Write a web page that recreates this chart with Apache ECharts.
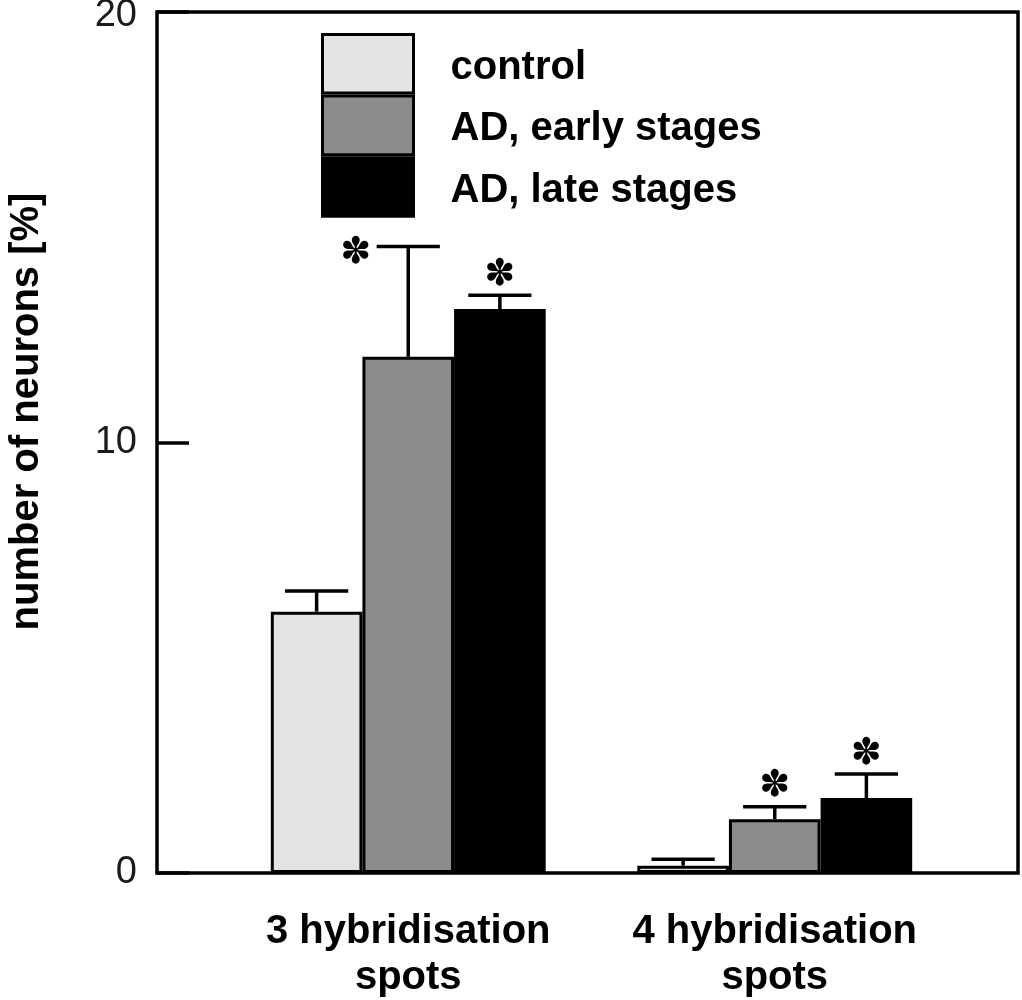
<!DOCTYPE html>
<html>
<head>
<meta charset="utf-8">
<script src="https://cdn.jsdelivr.net/npm/echarts@6/dist/echarts.min.js"></script>
<style>html,body{margin:0;padding:0;background:#fff;}#c{width:1022px;height:1000px;}</style>
</head>
<body>
<div id="c"></div>
<script>
// ---- data ----
var categories = ['3 hybridisation\nspots', '4 hybridisation\nspots'];
var seriesNames = ['control', 'AD, early stages', 'AD, late stages'];
var controlMean = [6.07, 0.17];
var controlUpper = [6.55, 0.32];
var earlyMean = [11.99, 1.25];
var earlyUpper = [14.55, 1.54];
var lateMean = [13.10, 1.74];
var lateUpper = [13.42, 2.30];
var controlSig = ['', ''];
var earlySig = ['left', 'top'];
var lateSig = ['top', 'top'];
var yTicks = [0, 10, 20];

var colors = ['#e3e3e3', '#8c8c8c', '#000000'];
var means = [controlMean, earlyMean, lateMean];
var uppers = [controlUpper, earlyUpper, lateUpper];
var sigs = [controlSig, earlySig, lateSig];

var FONT = 'Liberation Sans, Arial, Helvetica, sans-serif';
var GAP = 0.25;
var TOP = 12;

var chart = echarts.init(document.getElementById('c'), null, {renderer: 'canvas'});

var series = [];
seriesNames.forEach(function (name, i) {
  series.push({
    name: name,
    type: 'bar',
    xAxisIndex: 0, yAxisIndex: 0,
    data: means[i],
    barGap: '0%',
    barCategoryGap: (GAP * 100) + '%',
    itemStyle: {color: colors[i], borderColor: '#000', borderWidth: 3},
    emphasis: {disabled: true},
    z: 2
  });
});
seriesNames.forEach(function (name, i) {
  var d = means[i].map(function (m, k) { return [k, m, uppers[i][k], sigs[i][k]]; });
  series.push({
    name: name + ' err',
    type: 'custom',
    xAxisIndex: 0, yAxisIndex: 0,
    data: d,
    z: 5,
    silent: true,
    renderItem: function (params, api) {
      var k = api.value(0);
      var band = api.size([1, 0])[0];
      var bw = band * (1 - GAP) / 3;
      var c = api.coord([k, api.value(1)]);
      var t = api.coord([k, api.value(2)]);
      var x = c[0] + (i - 1) * bw;
      var capHalf = bw * 0.345;
      var st = {stroke: '#000', lineWidth: 3.5};
      var children = [
        {type: 'line', shape: {x1: x, y1: c[1], x2: x, y2: t[1]}, style: st},
        {type: 'line', shape: {x1: x - capHalf, y1: t[1], x2: x + capHalf, y2: t[1]}, style: st}
      ];
      var sg = d[params.dataIndex][3];
      if (sg) {
        var ax, ay;
        if (sg === 'left') { ax = x - capHalf - 21; ay = t[1] + 7; }
        else { ax = x; ay = t[1] - 20; }
        children.push({
          type: 'text',
          style: {
            text: '\u273D', x: ax, y: ay,
            font: '37px "DejaVu Sans", sans-serif',
            fill: '#000', align: 'center', verticalAlign: 'middle'
          }
        });
      }
      return {type: 'group', children: children};
    }
  });
});

var option = {
  backgroundColor: '#fff',
  animation: false,
  grid: [
    {left: 225, right: 64, top: TOP, bottom: 127, show: false, outerBoundsMode: 'none'},
    {left: 157, right: 4, top: TOP, bottom: 127, show: true, borderColor: '#000', borderWidth: 3.5, backgroundColor: 'transparent', z: 10, outerBoundsMode: 'none'}
  ],
  legend: {
    data: seriesNames,
    orient: 'vertical',
    left: 321, top: 33,
    padding: 0,
    itemGap: 0,
    itemWidth: 91,
    itemHeight: 58.6,
    icon: 'rect',
    selectedMode: false,
    itemStyle: {borderColor: '#000', borderWidth: 3},
    formatter: function (n) { return '{a|' + n + '}'; },
    textStyle: {
      fontFamily: FONT, fontSize: 40, fontWeight: 'bold', color: '#000',
      rich: {a: {fontFamily: FONT, fontSize: 40, fontWeight: 'bold', color: '#000', padding: [8, 0, 0, 32], lineHeight: 46}}
    }
  },
  xAxis: [
    {
      type: 'category', gridIndex: 0, data: categories,
      axisLine: {show: false}, axisTick: {show: false},
      axisLabel: {interval: 0, fontFamily: FONT, fontSize: 40, fontWeight: 'bold', color: '#000', lineHeight: 46, margin: 36}
    },
    {type: 'value', gridIndex: 1, show: false}
  ],
  yAxis: [
    {type: 'value', gridIndex: 0, min: 0, max: 20, show: false},
    {
      type: 'value', gridIndex: 1, min: yTicks[0], max: yTicks[yTicks.length - 1], interval: yTicks[1] - yTicks[0],
      splitLine: {show: false},
      axisLine: {show: false},
      axisTick: {show: true, inside: true, length: 32, lineStyle: {color: '#000', width: 3.5}},
      axisLabel: {
        fontFamily: FONT, fontSize: 38, color: '#1a1a1a', margin: 20,
        formatter: function (v) { return v === yTicks[yTicks.length - 1] ? '{t|' + v + '}' : String(v); },
        rich: {t: {fontFamily: FONT, fontSize: 38, color: '#1a1a1a', padding: [7, 0, 0, 0]}}
      },
      name: 'number of neurons [%]',
      nameLocation: 'middle',
      nameGap: 110,
      nameTextStyle: {fontFamily: FONT, fontSize: 40, fontWeight: 'bold', color: '#000', padding: [0, 0, 0, 62]}
    }
  ],
  series: series
};
chart.setOption(option);
</script>
</body>
</html>
